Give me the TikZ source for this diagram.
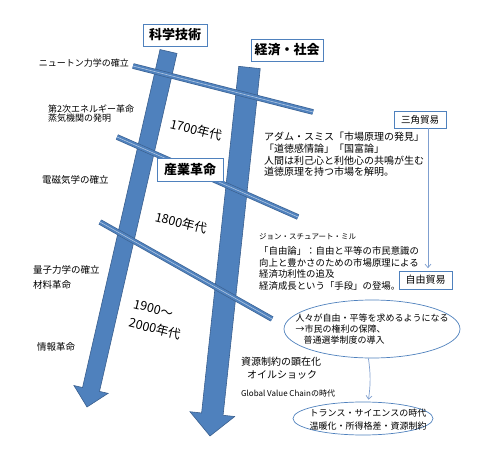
\documentclass[tikz,border=0pt]{standalone}
\usepackage{fontspec}
\setmainfont{Noto Sans CJK JP}
\usetikzlibrary{calc,arrows.meta,shapes.geometric}
\definecolor{arrfill}{HTML}{4F81BD}
\definecolor{arredge}{HTML}{3A5F8E}
\definecolor{lineblue}{HTML}{7F9FCF}
\tikzset{
  bigarrow/.style={fill=arrfill, draw=arredge, line width=0.6pt, line join=miter},
  titlebox/.style={draw=arrfill, fill=white, line width=0.8pt, inner sep=0pt, font=\fontsize{13}{15}\selectfont\bfseries},
  smallbox/.style={draw=arrfill, fill=white, line width=0.7pt, inner sep=0pt},
  lbl/.style={inner sep=0pt, align=left},
  yearlbl/.style={inner sep=0pt, align=left, rotate=-14, font=\fontsize{12.5}{19}\selectfont},
  conn/.style={draw=lineblue, line width=0.7pt, -{Straight Barb[length=3.5pt,width=6pt]}},
  oval/.style={ellipse, draw=arrfill, fill=white, line width=0.7pt, inner sep=0pt},
}
\newcommand\myarrow[5]{%
  \coordinate (H) at ($(#2)!#5!(#1)$);
  \filldraw[bigarrow] ($(#1)!#3!90:(#2)$) -- ($(H)!#3!90:(#2)$) -- ($(H)!#4!90:(#2)$) -- (#2)
    -- ($(H)!#4!-90:(#2)$) -- ($(H)!#3!-90:(#2)$) -- ($(#1)!#3!-90:(#2)$) -- cycle;}
\newcommand\mybar[2]{%
  \draw[line width=5.6pt, arredge] (#1) -- (#2);
  \draw[line width=4.4pt, arrfill] (#1) -- (#2);
  \draw[line width=0.6pt, white!55!arrfill] (#1) -- (#2);}
\begin{document}
\begin{tikzpicture}[x=1pt,y=-1pt]
\useasboundingbox (0,0) rectangle (490,465);
% main arrows
\coordinate (LA) at (168.5,51.5);
\coordinate (LB) at (87,407);
\coordinate (RA) at (249.5,67.5);
\coordinate (RB) at (210,436);
\myarrow{LA}{LB}{8.7pt}{17.5pt}{18pt}
\myarrow{RA}{RB}{10.8pt}{22.5pt}{22pt}
% cross bars
\coordinate (b1a) at (133,66);  \coordinate (b1b) at (313,112);
\coordinate (b2a) at (117,137); \coordinate (b2b) at (298,217);
\coordinate (b3a) at (100,222); \coordinate (b3b) at (272,319);
\mybar{b1a}{b1b}
\mybar{b2a}{b2b}
\mybar{b3a}{b3b}
% title boxes
\node[titlebox, minimum width=64pt, minimum height=22pt] (kagaku) at (175,35) {科学技術};
\node[titlebox, minimum width=72pt, minimum height=22pt] (keizai) at (287,50) {経済・社会};
\node[titlebox, minimum width=66pt, minimum height=23pt] (sangyo) at (190,169.5) {産業革命};
\node[smallbox, minimum width=52pt, minimum height=17pt, font=\fontsize{9.5}{11}\selectfont] (sankaku) at (420,119.5) {三角貿易};
\node[smallbox, minimum width=53pt, minimum height=18pt, font=\fontsize{10}{12}\selectfont] (jiyu) at (425.5,280) {自由貿易};
% left labels
\node[lbl, anchor=east, font=\fontsize{9}{10}\selectfont] (newton) at (129,63) {ニュートン力学の確立};
\node[lbl, anchor=west, font=\fontsize{9}{9.6}\selectfont] (energy) at (48,113.7) {第2次エネルギー革命\\蒸気機関の発明};
\node[lbl, anchor=west, font=\fontsize{9.5}{11}\selectfont] (denji) at (42,180) {電磁気学の確立};
\node[lbl, anchor=west, font=\fontsize{9.5}{15}\selectfont] (ryoshi) at (33,277.5) {量子力学の確立\\材料革命};
\node[lbl, anchor=west, font=\fontsize{9.5}{11}\selectfont] (johou) at (37,347) {情報革命};
% year labels
\node[yearlbl] (y1700) at (196,130) {1700年代};
\node[yearlbl] (y1800) at (181,223) {1800年代};
\node[yearlbl] (y1900) at (157,320) {1900～\\2000年代};
% right texts
\node[lbl, anchor=west, font=\fontsize{10}{11.7}\selectfont] (adam) at (264,154.5)
  {アダム・スミス「市場原理の発見」\\「道徳感情論」「国富論」\\人間は利己心と利他心の共鳴が生む\\道徳原理を持つ市場を解明。};
\node[lbl, anchor=west, font=\fontsize{7.5}{9}\selectfont] (mill1) at (259,237) {ジョン・スチュアート・ミル};
\node[lbl, anchor=west, font=\fontsize{9.4}{11.7}\selectfont] (mill2) at (259,268.5)
  {「自由論」：自由と平等の市民意識の\\向上と豊かさのための市場原理による\\経済功利性の追及\\経済成長という「手段」の登場。};
\node[lbl, anchor=west, font=\fontsize{10}{13}\selectfont] (shigen) at (241,368.5) {資源制約の顕在化\\\hspace{6pt}オイルショック};
\node[lbl, anchor=west, font=\fontsize{8}{10}\selectfont] (gvc) at (241,393) {Global Value Chainの時代};
% ellipses
\node[oval, minimum width=176pt, minimum height=58pt] (e1) at (372,329) {};
\node[lbl, font=\fontsize{9}{11}\selectfont] (t1) at (372,329)
  {人々が自由・平等を求めるようになる\\→市民の権利の保障、\\\hspace{8pt}普通選挙制度の導入};
\node[oval, minimum width=140pt, minimum height=33pt] (e2) at (363,418.5) {};
\node[inner sep=0pt, align=center, font=\fontsize{9}{13}\selectfont] (t2) at (368,419.5)
  {トランス・サイエンスの時代\\温暖化・所得格差・資源制約};
% connectors
\draw[conn] ([xshift=8pt]sankaku.south) -- ([xshift=2.5pt,yshift=2.5pt]jiyu.north);
\draw[conn] (e1.263) to[bend left=8] ([yshift=2pt]e2.72);
\end{tikzpicture}
\end{document}
